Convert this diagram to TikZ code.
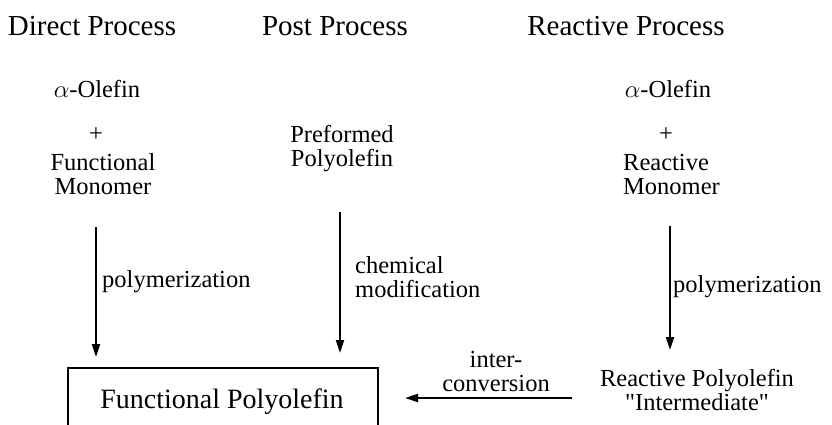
\documentclass[tikz,border=0pt]{standalone}
\usepackage{fontspec}
\setmainfont{Liberation Serif}[Ligatures=TeXOff]
\usetikzlibrary{arrows.meta}

\tikzset{
  head/.style={inner sep=0pt, anchor=base, font=\fontsize{29}{32}\selectfont},
  chem/.style={inner sep=0pt, anchor=base, font=\fontsize{24.5}{23.5}\selectfont},
  arr/.style={line width=2pt, -{Triangle[length=13pt, width=8pt]}}
}

\begin{document}
\begin{tikzpicture}[x=1pt, y=-1pt]
\useasboundingbox (0,0) rectangle (832,424);
\clip (0,0) rectangle (832,424);
\node[head] (hdirect) at (92, 35) {Direct Process};
\node[head] (hpost) at (335, 35) {Post Process};
\node[head] (hreactive) at (626, 35) {Reactive Process};
\node[chem] (olefinA) at (97, 97) {$\alpha$-Olefin};
\node[chem] (plusA) at (96, 141) {+};
\node[chem, align=center] (monoA) at (103, 194) {Functional\\Monomer};
\node[chem, align=center] (preformed) at (342, 166) {Preformed\\Polyolefin};
\node[chem] (olefinC) at (668, 97) {$\alpha$-Olefin};
\node[chem] (plusC) at (666, 141) {+};
\node[chem, align=left, anchor=base west] (monoC) at (623, 194) {Reactive\\Monomer};
\node[draw, line width=1.5pt, minimum width=310pt, minimum height=70pt, anchor=north west] (func) at (67, 367) {};
\node[inner sep=0pt, anchor=base, font=\fontsize{28}{30}\selectfont] (functext) at (222, 408) {Functional Polyolefin};
\node[chem, align=center] (reactpoly) at (697, 410) {Reactive Polyolefin\\"Intermediate"};
\node[chem, anchor=base west] (polyA) at (102, 287) {polymerization};
\node[chem, anchor=base west, align=left] (modif) at (355, 297) {chemical\\modification};
\node[chem, anchor=base west] (polyC) at (673, 292) {polymerization};
\node[chem, align=center] (interconv) at (496, 391) {inter-\\conversion};
\coordinate (a1) at (96, 227);
\coordinate (a2) at (96, 357);
\coordinate (b1) at (340, 212);
\coordinate (b2) at (340, 353);
\coordinate (c1) at (670, 226);
\coordinate (c2) at (670, 350);
\coordinate (d1) at (572, 398);
\coordinate (d2) at (405, 398);
\path[arr] (a1) edge (a2);
\path[arr] (b1) edge (b2);
\path[arr] (c1) edge (c2);
\path[arr] (d1) edge (d2);
\end{tikzpicture}
\end{document}
